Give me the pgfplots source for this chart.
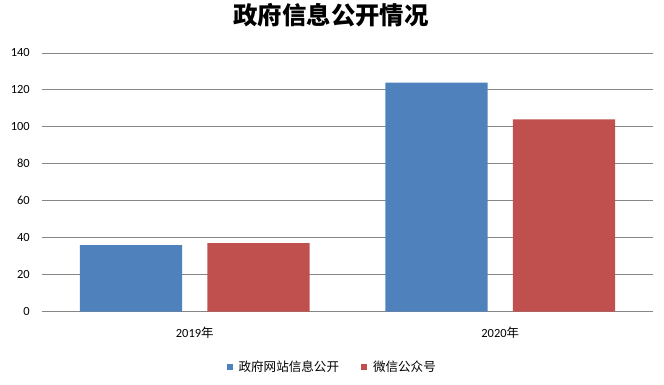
\documentclass[border=0pt]{standalone}
\usepackage{pgfplots}
\pgfplotsset{compat=1.18}
\usepackage{fontspec}
\setmainfont{Carlito}
\newfontfamily\cjk{Noto Sans CJK SC}
\definecolor{cblue}{HTML}{4F81BD}
\definecolor{cred}{HTML}{C0504D}
\definecolor{cgrid}{HTML}{868686}
\begin{document}
\begin{tikzpicture}
\path[use as bounding box] (-42bp,-73.5bp) rectangle (622bp,311.5bp);
\begin{axis}[
  at={(0,0)}, anchor=south west,
  scale only axis, width=611bp, height=258.5bp,
  ybar, bar width=0.334,
  xmin=-0.5, xmax=1.5, ymin=0, ymax=140,
  xtick={0,1}, xticklabels={{2019{\cjk 年}},{2020{\cjk 年}}},
  ytick={0,20,...,140},
  /pgf/number format/assume math mode=true,
  axis line style={draw=none},
  major tick length=0pt,
  ymajorgrids, grid style={cgrid, line width=0.9bp},
  yticklabel style={font=\fontsize{12.5}{14}\selectfont, anchor=east, inner sep=0pt, xshift=-12bp},
  xticklabel style={font=\fontsize{12.5}{14}\selectfont, anchor=center, inner sep=0pt, yshift=-21.5bp},
  title={\cjk\bfseries\fontsize{24.5}{26}\selectfont 政府信息公开情况},
  title style={at={(axis description cs:0.473,1.1238)}, anchor=center, inner sep=0pt},
  legend columns=2,
  legend image code/.code={\fill[#1,draw=none] (0bp,-3bp) rectangle (6bp,3bp);},
  legend style={at={(axis description cs:0.475,-0.2147)}, anchor=center, draw=none,
    font=\cjk\fontsize{12.6}{14}\selectfont, column sep=4bp,
    /tikz/every even column/.append style={column sep=20bp}},
]
\addplot[fill=cblue, draw=none, bar shift=-0.2087] coordinates {(0,36) (1,124)};
\addplot[fill=cred, draw=none, bar shift=0.2087] coordinates {(0,37) (1,104)};
\legend{政府网站信息公开, 微信公众号}
\end{axis}
\end{tikzpicture}
\end{document}
